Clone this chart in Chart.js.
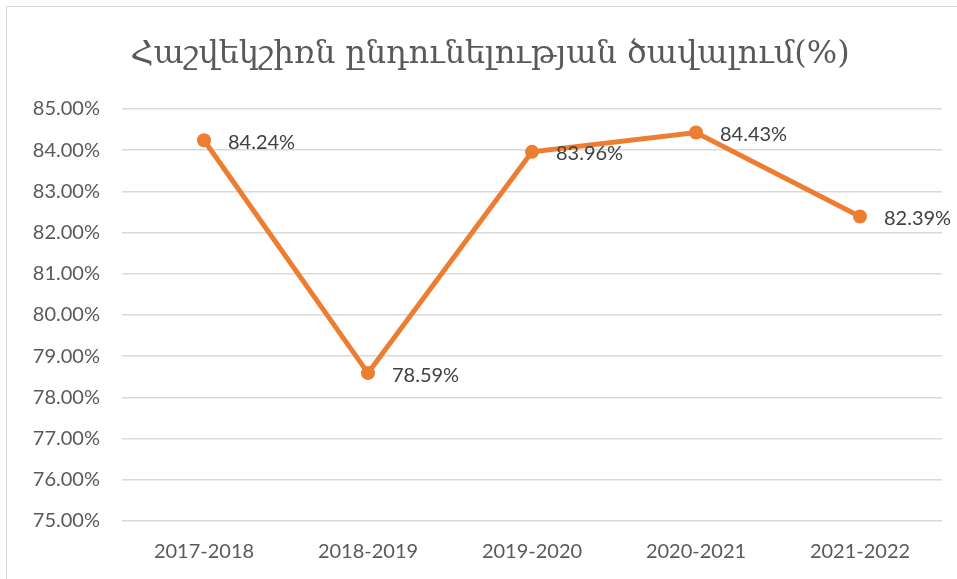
<!DOCTYPE html>
<html>
<head>
<meta charset="utf-8">
<script src="https://cdn.jsdelivr.net/npm/chart.js@4/dist/chart.umd.min.js"></script>
<style>
	html, body { margin: 0; padding: 0; background: white; }
	#wrap { position: relative; width: 957px; height: 579px; }
</style>
</head>
<body>
<div id="wrap"><canvas id="balance"></canvas></div>
<script>
var years = ['2017-2018', '2018-2019', '2019-2020', '2020-2021', '2021-2022'];
var shares = [84.24, 78.59, 83.96, 84.43, 82.39];
var chartTitle = 'Հաշվեկշիռն ընդունելության ծավալում(%)';

// value labels to the right of every point
var pointLabels = {
	id: 'pointLabels',
	afterDatasetsDraw: function (chart) {
		var ctx = chart.ctx;
		var meta = chart.getDatasetMeta(0);
		ctx.save();
		ctx.fillStyle = '#404040';
		ctx.font = '20px Lato, "Open Sans", sans-serif';
		ctx.textAlign = 'left';
		ctx.textBaseline = 'middle';
		meta.data.forEach(function (pt, i) {
			ctx.fillText(shares[i].toFixed(2) + '%', pt.x + 24, pt.y + 2);
		});
		ctx.restore();
	}
};

// white background, thin outer frame and the title (sits a bit right of centre)
var frame = {
	id: 'frame',
	beforeDraw: function (chart) {
		var ctx = chart.ctx;
		ctx.save();
		ctx.fillStyle = 'white';
		ctx.fillRect(0, 0, chart.width, chart.height);
		ctx.strokeStyle = '#d9d9d9';
		ctx.lineWidth = 1;
		ctx.strokeRect(6.5, 6.5, 1200, 1200);
		ctx.fillStyle = '#595959';
		ctx.font = '32px "DejaVu Serif", serif';
		ctx.textAlign = 'center';
		ctx.textBaseline = 'middle';
		ctx.fillText(chartTitle, 490, 55);
		ctx.restore();
	}
};

function start() {
	var ctx = document.getElementById('balance').getContext('2d');
	new Chart(ctx, {
		type: 'line',
		data: {
			labels: years,
			datasets: [{
				data: shares,
				borderColor: '#ED7D31',
				backgroundColor: '#ED7D31',
				borderWidth: 5,
				pointRadius: 7,
				pointBorderWidth: 0,
				pointHoverRadius: 7,
				tension: 0
			}]
		},
		options: {
			responsive: false,
			animation: false,
			layout: { padding: { left: 20, right: 15, top: 109, bottom: 18 } },
			plugins: {
				legend: { display: false },
				tooltip: { enabled: false },
				title: { display: false }
			},
			scales: {
				x: {
					offset: true,
					afterFit: function (scale) { scale.height = 40; },
					grid: { display: false, drawTicks: false },
					border: { display: false },
					ticks: {
						color: '#595959',
						font: { family: 'Lato, "Open Sans", sans-serif', size: 20 },
						padding: 19
					}
				},
				y: {
					min: 75,
					max: 85,
					afterFit: function (scale) { scale.width = 102; },
					grid: { color: '#d9d9d9', lineWidth: 1.5, drawTicks: false },
					border: { display: false },
					ticks: {
						stepSize: 1,
						color: '#595959',
						padding: 22,
						font: { family: 'Lato, "Open Sans", sans-serif', size: 20 },
						callback: function (v) { return v.toFixed(2) + '%'; }
					}
				}
			}
		},
		plugins: [frame, pointLabels]
	});
}

var cv = document.getElementById('balance');
cv.width = 957;
cv.height = 579;
window.onload = start;
</script>
</body>
</html>
